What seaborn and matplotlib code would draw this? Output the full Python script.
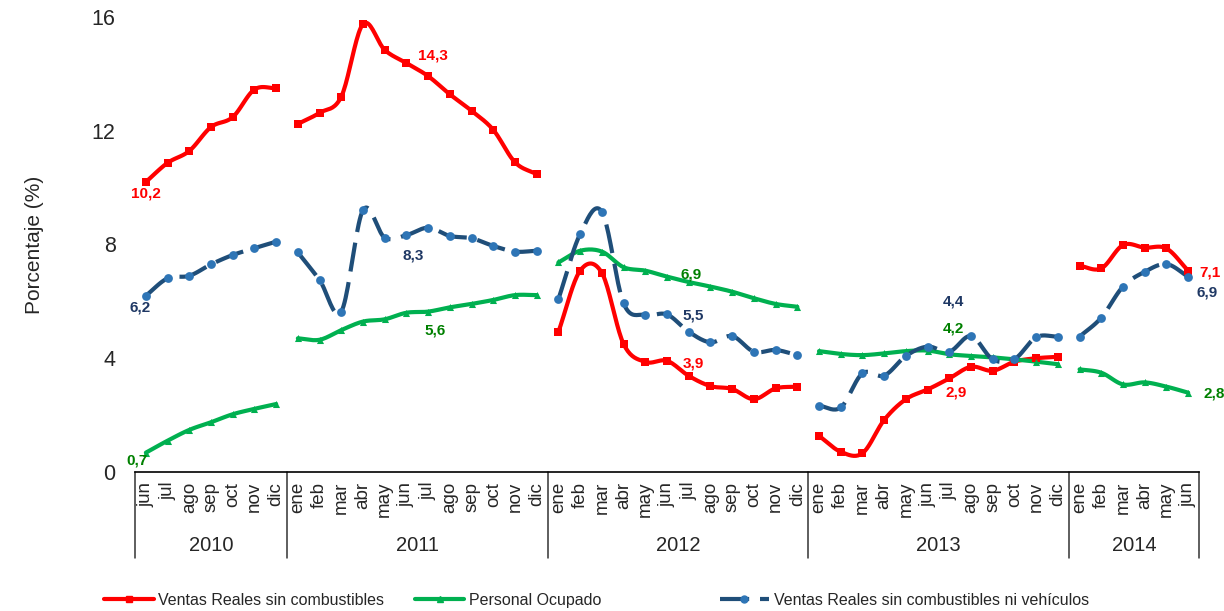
import numpy as np
import pandas as pd
import seaborn as sns
from matplotlib import pyplot as plt
from matplotlib.lines import Line2D
import matplotlib.transforms as mtrans

sns.set_style("white")
plt.rcParams['font.family'] = ['Liberation Sans', 'DejaVu Sans']

# Datos: junio 2010 a junio 2014 (variación en %)
anios = ["2010", "2011", "2012", "2013", "2014"]
meses_por_anio = [7, 12, 12, 12, 6]
meses_12 = ["ene", "feb", "mar", "abr", "may", "jun", "jul", "ago", "sep", "oct", "nov", "dic"]
meses = meses_12[5:] + meses_12 * 3 + meses_12[:6]

ventas = [10.2, 10.87, 11.29, 12.13, 12.48, 13.45, 13.5,
          12.24, 12.63, 13.2, 15.75, 14.84, 14.38, 13.92, 13.28, 12.7, 12.03, 10.89, 10.47,
          4.93, 7.08, 7.0, 4.5, 3.87, 3.91, 3.38, 3.02, 2.92, 2.56, 2.94, 3.0,
          1.27, 0.71, 0.66, 1.83, 2.56, 2.9, 3.29, 3.70, 3.56, 3.88, 4.0, 4.05,
          7.25, 7.16, 7.98, 7.89, 7.86, 7.08]

personal = [0.68, 1.1, 1.48, 1.75, 2.03, 2.22, 2.39,
            4.7, 4.65, 4.99, 5.29, 5.37, 5.6, 5.64, 5.79, 5.91, 6.05, 6.22, 6.22,
            7.37, 7.78, 7.75, 7.2, 7.08, 6.87, 6.68, 6.52, 6.34, 6.11, 5.91, 5.81,
            4.25, 4.15, 4.11, 4.17, 4.25, 4.27, 4.14, 4.08, 4.03, 3.96, 3.88, 3.79,
            3.61, 3.49, 3.08, 3.15, 3.0, 2.79]

ventas_sin_veh = [6.2, 6.81, 6.9, 7.3, 7.63, 7.87, 8.1,
                  7.72, 6.75, 5.64, 9.21, 8.24, 8.33, 8.59, 8.30, 8.22, 7.95, 7.75, 7.78,
                  6.08, 8.37, 9.15, 5.93, 5.52, 5.54, 4.93, 4.56, 4.78, 4.23, 4.29, 4.11,
                  2.33, 2.27, 3.47, 3.39, 4.08, 4.41, 4.23, 4.78, 3.96, 3.97, 4.74, 4.76,
                  4.76, 5.43, 6.52, 7.04, 7.31, 6.87]

# etiquetas de junio de cada año
etq_ventas = ["10,2", "14,3", "3,9", "2,9", "7,1"]
etq_personal = ["0,7", "5,6", "6,9", "4,2", "2,8"]
etq_sin_veh = ["6,2", "8,3", "5,5", "4,4", "6,9"]

ROJO = "#FF0000"
VERDE = "#00B050"
AZUL = "#1F4E79"
AZUL_M = "#2E75B6"


def suave(y, n=20):
    # curva suavizada tipo Excel (Catmull-Rom) solo para dibujar la línea
    y = np.asarray(y, float)
    p = np.r_[2 * y[0] - y[1], y, 2 * y[-1] - y[-2]]
    xs, ys = [], []
    for i in range(len(y) - 1):
        t = np.linspace(0, 1, n, endpoint=False)
        m0 = (p[i + 2] - p[i]) / 2
        m1 = (p[i + 3] - p[i + 1]) / 2
        h00 = 2 * t**3 - 3 * t**2 + 1
        h10 = t**3 - 2 * t**2 + t
        h01 = -2 * t**3 + 3 * t**2
        h11 = t**3 - t**2
        xs.extend(i + t)
        ys.extend(h00 * p[i + 1] + h10 * m0 + h01 * p[i + 2] + h11 * m1)
    xs.append(len(y) - 1)
    ys.append(y[-1])
    return np.array(xs), np.array(ys)


fig, ax = plt.subplots(figsize=(12.24, 6.11), dpi=100)
fig.subplots_adjust(left=0.1103, right=0.9796, bottom=0.2275, top=0.9722)

series = [
    (ventas, ROJO, ROJO, "s", 30, "-"),
    (personal, VERDE, VERDE, "^", 26, "-"),
    (ventas_sin_veh, AZUL, AZUL_M, "o", 40, (0, (7, 2.6))),
]

inicio = np.r_[0, np.cumsum(meses_por_anio)]
for k in range(len(anios)):
    a, b = inicio[k], inicio[k + 1]
    idx = np.arange(a, b)
    for vals, col, colm, mk, sz, ls in series:
        seg = vals[a:b]
        xs, ys = suave(seg)
        sns.lineplot(x=xs + a, y=ys, ax=ax, color=col, linewidth=3.0,
                     linestyle=ls, sort=False, estimator=None, zorder=2)
        sns.scatterplot(x=idx, y=seg, ax=ax, marker=mk, s=sz, color=colm,
                        linewidth=0, zorder=3)

# etiquetas de datos (posición aproximada de la referencia)
pos_ventas = [(0.0, 9.8), (13.2, 14.65), (25.2, 3.83), (37.3, 2.81), (49.0, 7.03)]
pos_personal = [(-0.4, 0.42), (13.3, 4.99), (25.1, 6.96), (37.2, 5.06), (49.2, 2.77)]
pos_sin_veh = [(-0.25, 5.77), (12.3, 7.63), (25.2, 5.49), (37.2, 5.98), (48.85, 6.32)]
for etqs, poss, col in [(etq_ventas, pos_ventas, ROJO),
                        (etq_personal, pos_personal, "#008000"),
                        (etq_sin_veh, pos_sin_veh, "#1F3864")]:
    for t, (x, y) in zip(etqs, poss):
        ax.text(x, y, t, color=col, fontsize=11, fontweight="bold",
                ha="center", va="center", clip_on=False)

ax.set_xlim(-0.5, len(meses) - 0.5)
ax.set_ylim(0, 16)
ax.set_yticks([0, 4, 8, 12, 16])
ax.tick_params(axis="y", length=0, pad=14, labelsize=15.5)
ax.set_xticks(range(len(meses)))
ax.set_xticklabels(meses, rotation=90, fontsize=13.5)
ax.tick_params(axis="x", length=0, pad=7)
ax.set_ylabel("Porcentaje (%)", fontsize=15, labelpad=34)
ax.set_xlabel("")

for s in ["left", "right", "top"]:
    ax.spines[s].set_visible(False)
ax.spines["bottom"].set_color("black")
ax.spines["bottom"].set_linewidth(1.2)

# separadores de años y etiquetas de año
trans = mtrans.blended_transform_factory(ax.transData, ax.transAxes)
for x in inicio - 0.5:
    ax.plot([x, x], [0, -0.188], transform=trans, color="#333333",
            linewidth=1.1, clip_on=False)
for k, anio in enumerate(anios):
    centro = (inicio[k] + inicio[k + 1] - 1) / 2
    ax.text(centro, -0.162, anio, transform=trans, ha="center", va="center",
            fontsize=14.5)

# leyenda
entradas = [
    (Line2D([], [], color=ROJO, lw=3, marker="s", markersize=5), "Ventas Reales sin combustibles", 0.085),
    (Line2D([], [], color=VERDE, lw=3, marker="^", markersize=5), "Personal Ocupado", 0.339),
    (Line2D([], [], color=AZUL, lw=3, marker="o", markersize=5, markerfacecolor=AZUL_M,
            markeredgecolor=AZUL_M, linestyle=(0, (7, 2.6))), "Ventas Reales sin combustibles ni vehículos", 0.588),
]
for h, lab, x in entradas:
    fig.legend([h], [lab], loc="center left", bbox_to_anchor=(x, 0.018),
               frameon=False, fontsize=11.5, handlelength=3.1, handletextpad=0.3,
               borderaxespad=0, borderpad=0)

plt.savefig("out.png", dpi=100)
